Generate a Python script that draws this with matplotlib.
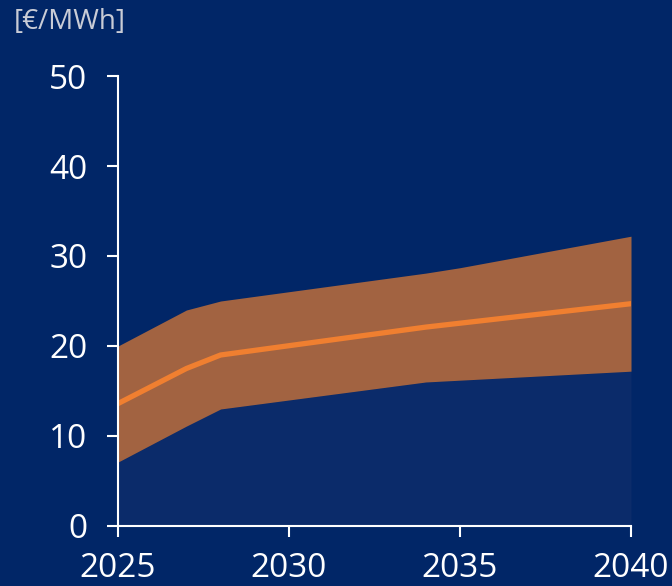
import matplotlib
matplotlib.use("Agg")
import matplotlib.pyplot as plt

# donnees
annees = [2025, 2027, 2028, 2034, 2035, 2038, 2040]
haut = [20.0, 24.0, 25.0, 28.1, 28.7, 30.8, 32.2]
bas = [7.1, 11.1, 13.0, 16.0, 16.2, 16.8, 17.2]
annees_prix = [2025, 2027, 2028, 2034, 2040]
prix = [13.6, 17.5, 19.0, 22.1, 24.7]

ticks_x = [2025, 2030, 2035, 2040]
ticks_y = [0, 10, 20, 30, 40, 50]
unite = "[€/MWh]"

fond = "#012667"
fond_bas = "#0b2b6a"
bande = "#a26341"
orange = "#f07f30"

plt.rcParams['font.family'] = ['Open Sans', 'DejaVu Sans']

fig = plt.figure(figsize=(6.72, 5.86), dpi=100, facecolor=fond)
ax = fig.add_axes([0.1756, 0.1024, 0.7634, 0.7679])
ax.set_facecolor(fond)

# zone sous la bande
ax.fill_between(annees, 0, bas, color=fond_bas, lw=0)
ax.fill_between(annees, bas, haut, color=bande, lw=0)
ax.plot([2040, 2040], [0, bas[-1]], color="#2a4478", lw=0.8)
ax.plot(annees_prix, prix, color=orange, lw=3.8, solid_capstyle="round", solid_joinstyle="round")

ax.set_xlim(2025, 2040)
ax.set_ylim(0, 50)
ax.set_xticks(ticks_x)
ax.set_yticks(ticks_y)

for c in ["top", "right"]:
    ax.spines[c].set_visible(False)
for c in ["left", "bottom"]:
    ax.spines[c].set_color("white")
    ax.spines[c].set_linewidth(1.5)

ax.tick_params(axis="y", colors="white", labelsize=24, length=8, width=1.5, pad=14)
ax.tick_params(axis="x", colors="white", labelsize=24, length=8, width=1.5, pad=11)
for lab in ax.get_xticklabels() + ax.get_yticklabels():
    lab.set_clip_on(False)

fig.text(0.02, 0.962, unite, color="#c9ccd6", fontsize=20, ha="left", va="center")

fig.savefig("out.png", dpi=100, facecolor=fond)
